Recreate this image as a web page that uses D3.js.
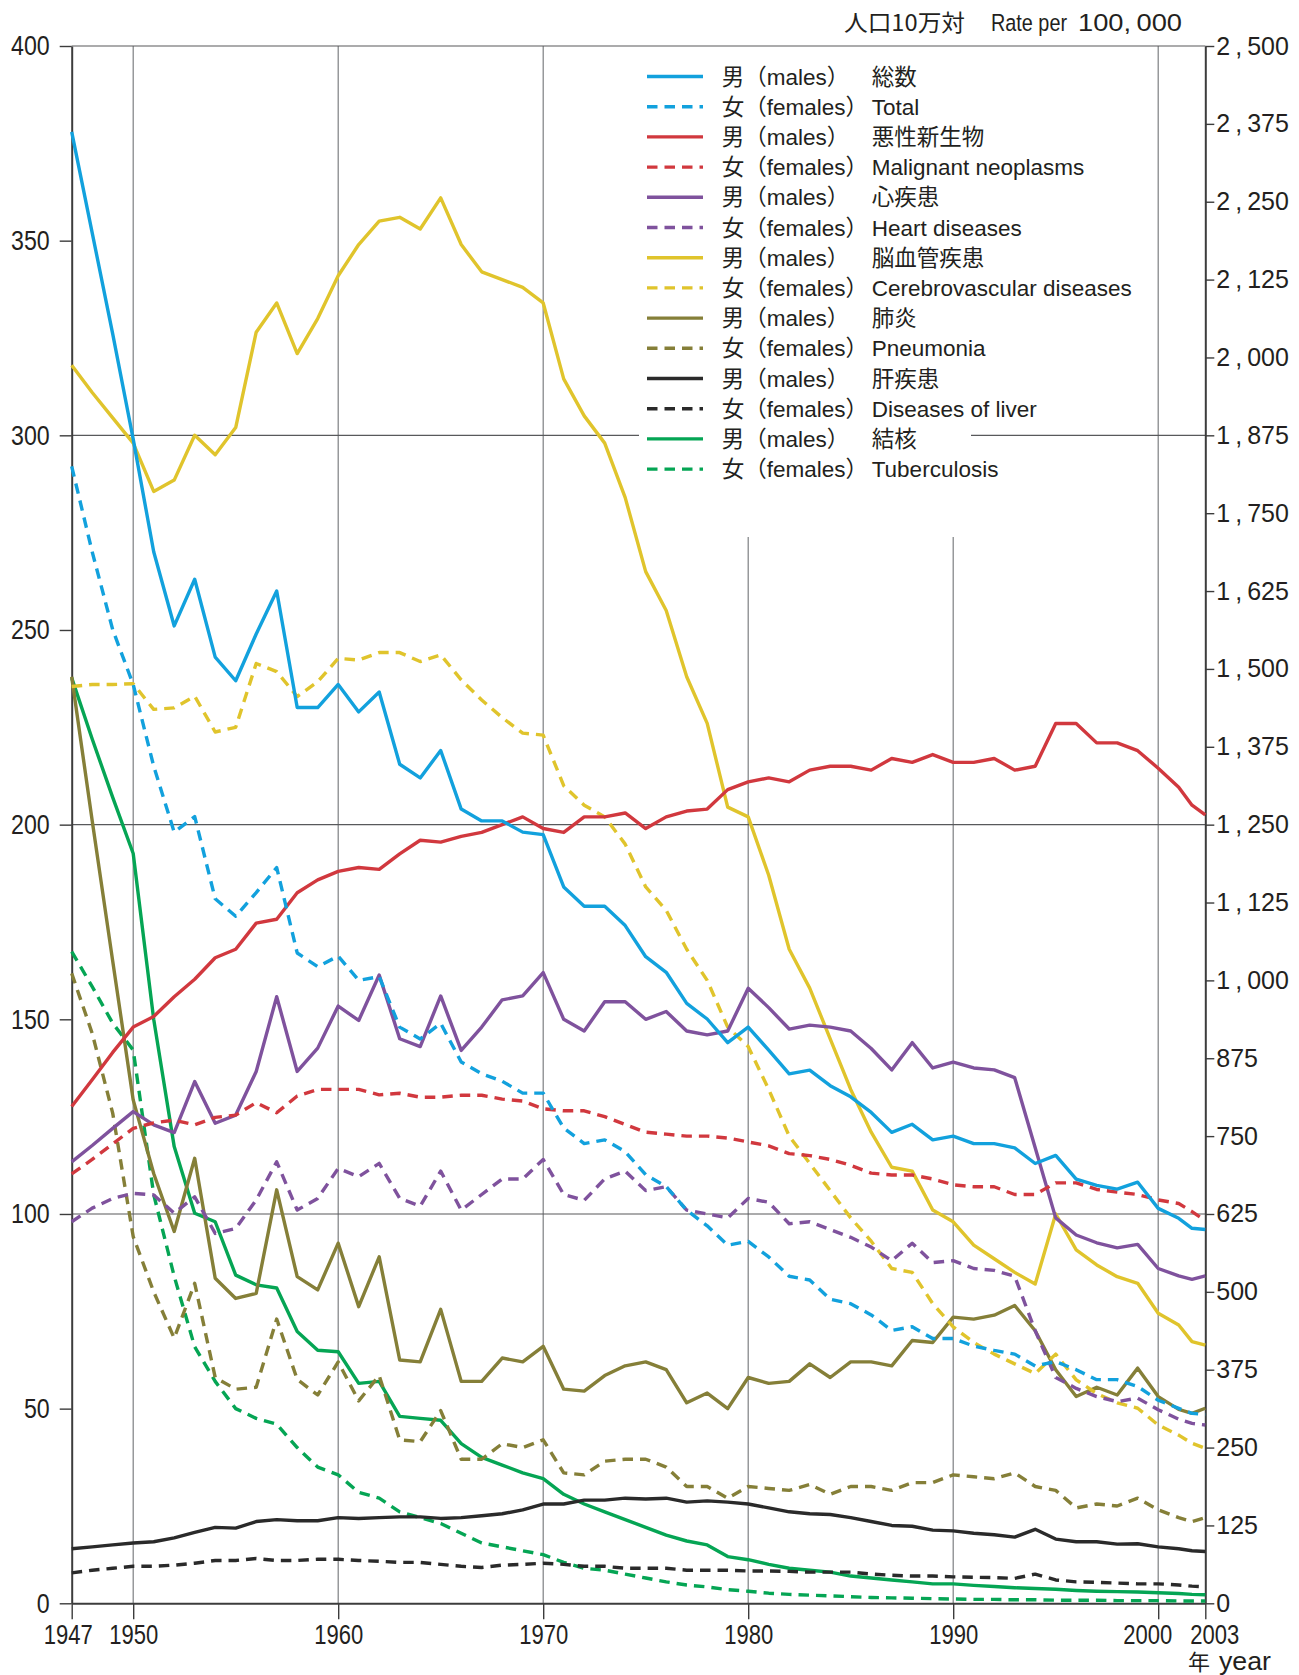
<!DOCTYPE html>
<html><head><meta charset="utf-8">
<script src="https://cdn.jsdelivr.net/npm/d3@7"></script>
<style>
body{margin:0;background:#fff;}
svg{display:block;}
</style></head><body>
<svg id="chart" width="1299" height="1675"></svg>
<script>
// ---------------- DATA ----------------
const years = d3.range(1947, 2004);
// Total (right axis, rate per 100,000)
const totalMale = [2362,2200,2038,1869,1688,1569,1644,1519,1481,1556,
  1625,1438,1438,1475,1431,1463,1347,1325,1369,1275,
  1256,1256,1238,1234,1150,1119,1119,1088,1038,1013,
  963,938,900,925,888,850,856,831,813,788,
  756,769,744,750,738,738,731,706,719,681,
  671,665,676,634,618,602,600];
const totalFemale = [1825,1688,1563,1475,1344,1238,1263,1131,1103,1141,
  1181,1044,1022,1039,1000,1006,925,906,931,869,
  850,838,819,819,763,738,744,725,688,669,
  631,606,575,581,556,525,519,488,481,463,
  438,444,425,425,413,406,400,381,388,375,
  359,359,348,326,313,305,303];
// Left axis series
const malignantMale = [127.6,134.5,141.5,148,150.7,155.8,160.3,165.8,168,174.7,
  175.7,182.5,185.8,188,189,188.5,192.5,196,195.5,197,
  198,200,202,199,198,202,202,203,199,202,
  203.5,204,209,211,212,211,214,215,215,214,
  217,216,218,216,216,217,214,215,226,226,
  221,221,219,214.5,209.6,205,202.5];
const malignantFemale = [110.3,114,118,122,123.4,124.1,122.9,124.8,125.4,128.6,
  126,130.3,132,132,132,130.6,131,130,130,130.5,
  130.5,129.5,129,127,126.5,126.5,125,123,121,120.5,
  120,120,119.5,118.5,117.5,115.5,115,114,112.5,110.5,
  110,110,109,107.5,107,107,105,105,108,108,
  106.3,105.6,105,103.6,102.7,100.6,98.3];
const heartMale = [113.4,117.6,122,126.3,122.9,120.9,134,123.3,125.4,136.6,
  155.8,136.6,142.6,153.4,149.7,161.4,145,143,156,142,
  148,155,156,162,150,147,154.5,154.5,150,152,
  147,146,147,158,153,147.5,148.5,148,147,142.5,
  137,144,137.5,139,137.5,137,135,117,99,94.6,
  92.6,91.3,92.2,86,84.1,83.2,84.1];
const heartFemale = [98,101.5,104,105.3,104.9,100.2,104.4,95,96.3,103.6,
  113.4,101,104,111.7,109.6,113,104,102,111,101,
  105,109,109,114,105,103.5,109,111,106,107,
  101,100,99,104,103,97.5,98,96,94,91.5,
  88,92.5,87.5,88,86,85.5,84,70,58,55.2,
  53.1,51.8,52.7,49.7,47.3,46.2,45.8];
const cerebroMale = [318,311,304.5,298,285.6,288.5,300,295,302,326.5,
  334,321,330,341,349,355,356,353,361,349,
  342,340,338,334,314.5,305,298,284,265,255,
  238,226,204.5,202,187,168,158,145,132,121,
  112,111,101,98,92,88.5,85,82,100,90.8,
  86.9,83.9,82.2,74.5,71.5,67.2,66.3];
const cerebroFemale = [235.5,236,236,236.2,229.6,230,233,223.8,225,241.4,
  239.3,232.9,236.7,242.7,242.3,244.2,244.2,241.9,243.6,237.2,
  232,227.5,223.5,223,210,205,202,195,184,178,
  168,160,148,143,132,120,113,106,99,93,
  86,85,77,71,67,64,61.5,59,64,57.4,
  53.9,51.5,50.1,45.8,43.2,41.1,39.8];
const pneumoniaMale = [238,201,165,129.3,110.4,95.5,114.3,83.5,78.3,79.6,
  106.2,83.9,80.5,92.5,76.2,89,62.5,62,75.5,57,
  57,63,62,66,55,54.5,58.5,61,62,60,
  51.5,54,50,58,56.5,57,61.5,58,62,62,
  61,67.5,67,73.5,73,74,76.5,70,60,53.1,
  55.5,53.5,60.4,53.1,49.8,48.8,50.1];
const pneumoniaFemale = [161.8,146.4,125.9,94.2,80,68.1,82.2,58,55,55.5,
  73,57.5,53.5,62,52,58.5,42,41.5,49.5,37,
  37,41,40,42,33.5,33,36.5,37,37,35,
  30,30,27,30,29.5,29,30.5,28,30,30,
  29,31,31,33,32.5,32,33.5,30,29,24.5,
  25.5,25,27,24,22,21,22];
const liverMale = [14,14.5,15,15.5,15.8,16.8,18.2,19.5,19.3,21,
  21.5,21.2,21.2,22,21.8,22,22.2,22.2,21.8,22,
  22.5,23,24,25.5,25.5,26.5,26.5,27,26.8,27,
  26,26.3,26,25.5,24.5,23.5,23,22.8,22,21,
  20,19.8,18.8,18.6,18,17.6,17,19,16.5,15.8,
  15.8,15.2,15.3,14.5,14,13.5,13.3];
const liverFemale = [7.8,8.5,9,9.5,9.5,9.8,10.3,11,11,11.5,
  11,11,11.3,11.3,11,10.8,10.5,10.5,10,9.5,
  9.2,9.8,10,10.3,10,9.5,9.5,9,9,9,
  8.5,8.5,8.5,8.3,8.3,8.2,8,8,8,7.5,
  7.2,7,7,6.8,6.7,6.6,6.4,7.5,6,5.5,
  5.4,5.2,5,5,4.7,4.4,4.2];
const tbMale = [237.7,222,207,192.6,150,117.3,100.2,98,84.3,81.8,
  81,69.8,65,64.6,56.5,57,48,47.5,47,41,
  37.5,35.5,33.5,32,28,25.5,23.5,21.5,19.5,17.5,
  16,15,12,11.2,10,9,8.5,8,7,6.5,
  6,5.5,5,5,4.6,4.3,4,3.8,3.6,3.3,
  3.1,3,2.9,2.7,2.5,2.3,2.2];
const tbFemale = [167.4,158.4,149,142.1,105,84,65.9,57,50,47.5,
  46,40,35,33,28.5,27,23.5,22,20.5,18,
  15.5,14.5,13.5,12.5,10.5,9,8.5,7.5,6.5,5.5,
  4.7,4.2,3.5,3.1,2.6,2.3,2.1,1.9,1.7,1.5,
  1.4,1.3,1.2,1.1,1,1,0.9,0.9,0.8,0.8,
  0.8,0.7,0.7,0.7,0.6,0.6,0.6];

const causeJa = ["総数","悪性新生物","心疾患","脳血管疾患","肺炎","肝疾患","結核"];
const causeEn = ["Total","Malignant neoplasms","Heart diseases","Cerebrovascular diseases","Pneumonia","Diseases of liver","Tuberculosis"];
const sexLabels = ["男（males）","女（females）"];
const leftTicks = [0,50,100,150,200,250,300,350,400];
const rightTicks = d3.range(0, 2501, 125);
const yearTicks = [1947,1950,1960,1970,1980,1990,2000,2003];
const titleJa = "人口10万対";
const titleEn1 = "Rate per";
const titleEn2 = "100,\u2009000";
const yearLabelJa = "年";
const yearLabelEn = "year";

// ---------------- SETUP ----------------
const colors = ["#12a1dd","#d1383e","#7f529d","#e0c42c","#857f38","#2a2a2a","#05a554"];
const valuesByCause = [
  [totalMale,totalFemale],[malignantMale,malignantFemale],[heartMale,heartFemale],
  [cerebroMale,cerebroFemale],[pneumoniaMale,pneumoniaFemale],[liverMale,liverFemale],[tbMale,tbFemale]];
const series = [];
valuesByCause.forEach((pair,ci)=>{
  pair.forEach((vals,si)=>{
    series.push({cause:ci, sex:si, color:colors[ci], axis: ci===0?"R":"L",
      points: years.map((y,i)=>({year:y, v:vals[i]}))});
  });
});

const svg = d3.select("#chart");
const X0 = 71.7, X1 = 1205.3, Y0 = 1603.3, Y1 = 46;
const x = d3.scaleLinear().domain([1947, 2001, 2003]).range([X0, 1178.7, X1]);
const yL = d3.scaleLinear().domain([0, 400]).range([Y0, Y1]);
const yR = d3.scaleLinear().domain([0, 2500]).range([Y0, Y1]);

const FONT = "'Liberation Sans', Arial, 'Noto Sans CJK JP', sans-serif";
const INK = "#231f20";

// gridlines
const grid = svg.append("g");
[1950,1960,1970,2000].forEach(yr=>{
  grid.append("line").attr("x1",x(yr)).attr("x2",x(yr)).attr("y1",Y1).attr("y2",Y0)
    .attr("stroke","#7d7f82").attr("stroke-width",1.2);
});
[1980,1990].forEach(yr=>{
  grid.append("line").attr("x1",x(yr)).attr("x2",x(yr)).attr("y1",537).attr("y2",Y0)
    .attr("stroke","#7d7f82").attr("stroke-width",1.2);
});
[100,200,300,400].forEach(v=>{
  grid.append("line").attr("x1",X0).attr("x2",X1).attr("y1",yL(v)).attr("y2",yL(v))
    .attr("stroke","#58595b").attr("stroke-width",1.2);
});

// legend background
svg.append("rect").attr("x",639).attr("y",55).attr("width",332).attr("height",482).attr("fill","#fff");
svg.append("rect").attr("x",971).attr("y",55).attr("width",179).attr("height",370).attr("fill","#fff");

// axes
const axL = svg.append("g").attr("transform",`translate(${X0},0)`)
  .call(d3.axisLeft(yL).tickValues(leftTicks).tickSize(12).tickSizeOuter(0).tickPadding(10));
axL.selectAll("text").attr("font-size",28).attr("font-family",FONT).attr("fill",INK)
  .attr("textLength",d=>String(d).length*12.9).attr("lengthAdjust","spacingAndGlyphs");

const axR = svg.append("g").attr("transform",`translate(${X1},0)`)
  .call(d3.axisRight(yR).tickValues(rightTicks).tickSize(9).tickSizeOuter(0).tickPadding(2)
    .tickFormat(d=>d3.format(",")(d).replace(",","\u2009,\u2009")));
axR.selectAll("text").attr("font-size",25).attr("font-family",FONT).attr("fill",INK);

const axB = svg.append("g").attr("transform",`translate(0,${Y0})`)
  .call(d3.axisBottom(x).tickValues(yearTicks).tickSize(16).tickSizeOuter(0).tickPadding(5)
    .tickFormat(d=>String(d)));
const yearShift = {1947:-4, 2000:-11, 2003:9};
axB.selectAll("text").attr("font-size",28).attr("font-family",FONT).attr("fill",INK)
  .attr("dx",d=>yearShift[d]||0)
  .attr("textLength",49).attr("lengthAdjust","spacingAndGlyphs");

[axL,axR,axB].forEach(a=>{
  a.select(".domain").attr("stroke","#3c3c3c").attr("stroke-width",2);
  a.selectAll(".tick line").attr("stroke","#3c3c3c").attr("stroke-width",1.4);
});

// year unit label
svg.append("text").attr("x",1188).attr("y",1670).attr("font-size",22)
  .attr("font-family","'Noto Sans CJK JP', sans-serif").attr("fill",INK).text(yearLabelJa);
svg.append("text").attr("x",1219).attr("y",1670).attr("font-size",25).attr("font-family",FONT)
  .attr("fill",INK).attr("textLength",52).attr("lengthAdjust","spacingAndGlyphs").text(yearLabelEn);

// title
svg.append("text").attr("x",844).attr("y",31).attr("font-size",22.5)
  .attr("font-family","'Noto Sans CJK JP', sans-serif").attr("fill",INK)
  .attr("textLength",121).attr("lengthAdjust","spacingAndGlyphs").text(titleJa);
svg.append("text").attr("x",991).attr("y",31).attr("font-size",24.5).attr("font-family",FONT)
  .attr("fill",INK).attr("textLength",76).attr("lengthAdjust","spacingAndGlyphs").text(titleEn1);
svg.append("text").attr("x",1078).attr("y",31).attr("font-size",23).attr("font-family",FONT)
  .attr("fill",INK).attr("textLength",104).attr("lengthAdjust","spacingAndGlyphs")
  .text(titleEn2);

// legend
const leg = svg.append("g");
series.forEach((s,i)=>{
  const cy = 76.5 + i*30.2;
  leg.append("line").attr("x1",647).attr("x2",703).attr("y1",cy).attr("y2",cy)
    .attr("stroke",s.color).attr("stroke-width",3.4)
    .attr("stroke-dasharray", s.sex===1 ? "10.5,7" : null);
  leg.append("text").attr("x",721.7).attr("y",cy+8).attr("font-size",22.5)
    .attr("font-family",FONT).attr("fill",INK).text(sexLabels[s.sex]);
  leg.append("text").attr("x",871.7).attr("y",cy+8).attr("font-size",22.5)
    .attr("font-family",FONT).attr("fill",INK)
    .text(s.sex===0 ? causeJa[s.cause] : causeEn[s.cause]);
});

// data lines
const lines = svg.append("g");
series.slice().reverse().forEach(s=>{
  const yy = s.axis==="R" ? yR : yL;
  const gen = d3.line().x(d=>x(d.year)).y(d=>yy(d.v));
  lines.append("path").datum(s.points).attr("d",gen)
    .attr("fill","none").attr("stroke",s.color).attr("stroke-width",3.4)
    .attr("stroke-linejoin","round")
    .attr("stroke-dasharray", s.sex===1 ? "10.5,7" : null);
});
</script>
</body></html>
